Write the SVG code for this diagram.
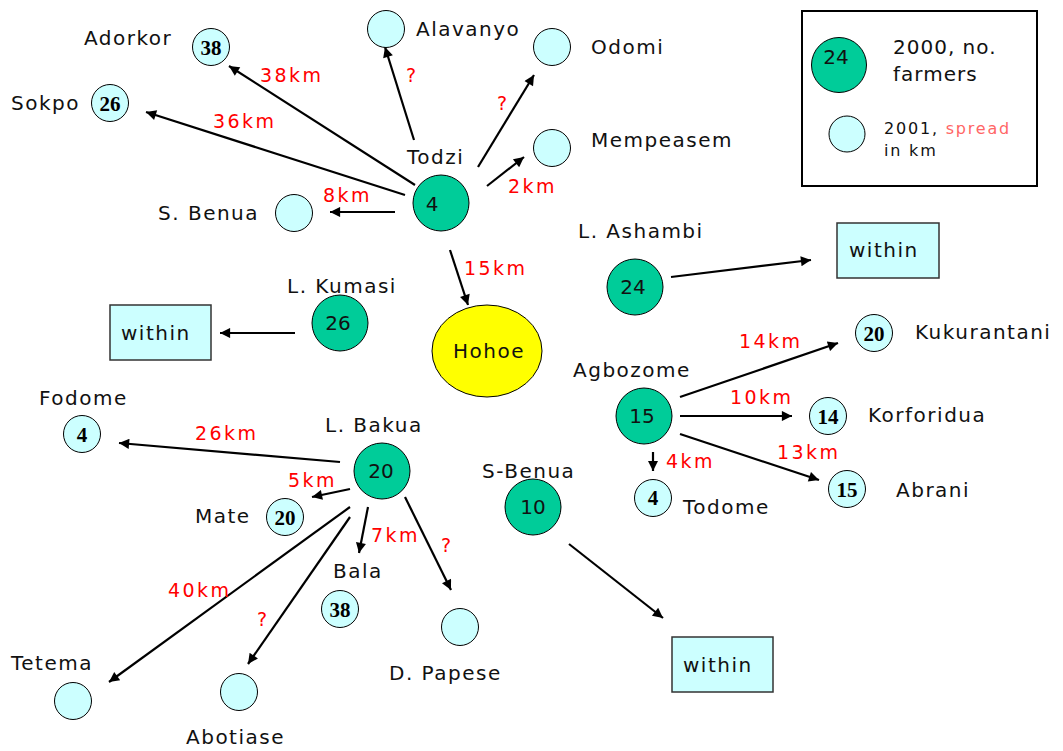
<svg xmlns="http://www.w3.org/2000/svg" width="1063" height="751" viewBox="0 0 1063 751">
<style>
.lbl{font-family:"DejaVu Sans",Verdana,sans-serif;font-size:20px;letter-spacing:1.5px;fill:#111}
.km{font-family:"DejaVu Sans",Verdana,sans-serif;font-size:19px;letter-spacing:2.4px;fill:#ff0000}
.num{font-family:"DejaVu Sans",Verdana,sans-serif;font-size:20px;fill:#111;text-anchor:middle}
.bn{font-family:"Liberation Serif","Times New Roman",serif;font-size:21px;font-weight:bold;fill:#000;text-anchor:middle}
.g{fill:#00cc99;stroke:#000;stroke-width:1}
.c{fill:#ccffff;stroke:#000;stroke-width:1}
.bx{fill:#ccffff;stroke:#333;stroke-width:1.5}
.ar{stroke:#000;stroke-width:2.2;fill:none;marker-end:url(#ah)}
.leg{font-family:"DejaVu Sans",Verdana,sans-serif;fill:#111}
</style>
<defs>
<marker id="ah" viewBox="0 0 10 10" refX="10" refY="5" markerWidth="6" markerHeight="4.6" orient="auto">
<path d="M0,0 L10,5 L0,10 z" fill="#000"/>
</marker>
</defs>
<rect width="1063" height="751" fill="#fff"/>

<g id="connectors">
<line class="ar" x1="414" y1="140" x2="385" y2="47"/>
<line class="ar" x1="478" y1="167" x2="534" y2="75"/>
<line class="ar" x1="487" y1="186" x2="524" y2="157"/>
<line class="ar" x1="415" y1="185" x2="229" y2="66"/>
<line class="ar" x1="405" y1="195" x2="146" y2="112"/>
<line class="ar" x1="395" y1="212" x2="330" y2="212"/>
<line class="ar" x1="450" y1="250" x2="468" y2="305"/>
<line class="ar" x1="295" y1="333" x2="220" y2="333"/>
<line class="ar" x1="671" y1="277" x2="811" y2="260"/>
<line class="ar" x1="680" y1="397" x2="838" y2="343"/>
<line class="ar" x1="680" y1="416" x2="792" y2="416"/>
<line class="ar" x1="680" y1="434" x2="819" y2="480"/>
<line class="ar" x1="653" y1="452" x2="653" y2="471"/>
<line class="ar" x1="340" y1="462" x2="119" y2="443"/>
<line class="ar" x1="350" y1="489" x2="312" y2="497"/>
<line class="ar" x1="368" y1="507" x2="359" y2="553"/>
<line class="ar" x1="405" y1="497" x2="451" y2="590"/>
<line class="ar" x1="350" y1="507" x2="109" y2="682"/>
<line class="ar" x1="350" y1="517" x2="248" y2="664"/>
<line class="ar" x1="569" y1="544" x2="663" y2="618"/>
<text class="km" x="260" y="82">38km</text>
<text class="km" x="213" y="128">36km</text>
<text class="km" x="323" y="202">8km</text>
<text class="km" x="406" y="82">?</text>
<text class="km" x="497" y="110">?</text>
<text class="km" x="508" y="193">2km</text>
<text class="km" x="464" y="275">15km</text>
<text class="km" x="195" y="440">26km</text>
<text class="km" x="288" y="487">5km</text>
<text class="km" x="371" y="542">7km</text>
<text class="km" x="441" y="552">?</text>
<text class="km" x="168" y="597">40km</text>
<text class="km" x="257" y="626">?</text>
<text class="km" x="739" y="348">14km</text>
<text class="km" x="730" y="404">10km</text>
<text class="km" x="777" y="459">13km</text>
<text class="km" x="666" y="468">4km</text>
</g>

<g id="legend">
<rect x="802" y="11" width="235" height="175" fill="#fff" stroke="#000" stroke-width="2"/>
<circle class="g" cx="839" cy="65" r="27.5"/>
<text class="num" x="836" y="64">24</text>
<text class="leg" x="893" y="54" font-size="20" letter-spacing="1">2000, no.</text>
<text class="leg" x="893" y="81" font-size="20" letter-spacing="1">farmers</text>
<circle class="c" cx="847" cy="134" r="18"/>
<text class="leg" x="884" y="134" font-size="16" letter-spacing="1.8">2001, <tspan fill="#ff6666">spread</tspan></text>
<text class="leg" x="884" y="156" font-size="16" letter-spacing="1.8" fill="#ff6666">in km</text>
</g>

<g id="hohoe"><ellipse cx="487" cy="351" rx="55" ry="46" fill="#ffff00" stroke="#000" stroke-width="1"/><text class="lbl" x="453" y="358">Hohoe</text></g>

<g id="todzi"><circle class="g" cx="441" cy="203" r="28"/><text class="num" x="432" y="211">4</text><text class="lbl" x="407" y="164">Todzi</text></g>
<g id="l-kumasi"><circle class="g" cx="340" cy="323" r="28"/><text class="num" x="338" y="330">26</text><text class="lbl" x="287" y="293">L. Kumasi</text></g>
<g id="l-ashambi"><circle class="g" cx="635" cy="287" r="28"/><text class="num" x="633" y="294">24</text><text class="lbl" x="578" y="238">L. Ashambi</text></g>
<g id="agbozome"><circle class="g" cx="644" cy="416" r="28"/><text class="num" x="642" y="423">15</text><text class="lbl" x="573" y="377">Agbozome</text></g>
<g id="l-bakua"><circle class="g" cx="382" cy="471" r="28"/><text class="num" x="381" y="478">20</text><text class="lbl" x="325" y="432">L. Bakua</text></g>
<g id="s-benua-2"><circle class="g" cx="533" cy="507" r="28"/><text class="num" x="533" y="514">10</text><text class="lbl" x="482" y="478">S-Benua</text></g>

<g id="alavanyo"><circle class="c" cx="386" cy="29" r="18.5"/><text class="lbl" x="416" y="36">Alavanyo</text></g>
<g id="odomi"><circle class="c" cx="552" cy="47" r="18.5"/><text class="lbl" x="591" y="54">Odomi</text></g>
<g id="mempeasem"><circle class="c" cx="552" cy="148" r="18.5"/><text class="lbl" x="591" y="147">Mempeasem</text></g>
<g id="adorkor"><circle class="c" cx="211" cy="47" r="18.5"/><text class="bn" x="211" y="55">38</text><text class="lbl" x="84" y="45">Adorkor</text></g>
<g id="sokpo"><circle class="c" cx="110" cy="103" r="18.5"/><text class="bn" x="110" y="111">26</text><text class="lbl" x="11" y="110">Sokpo</text></g>
<g id="s-benua"><circle class="c" cx="294" cy="213" r="18.5"/><text class="lbl" x="158" y="220">S. Benua</text></g>
<g id="fodome"><circle class="c" cx="82" cy="434" r="18.5"/><text class="bn" x="82" y="442">4</text><text class="lbl" x="39" y="405">Fodome</text></g>
<g id="mate"><circle class="c" cx="285" cy="517" r="18.5"/><text class="bn" x="285" y="525">20</text><text class="lbl" x="195" y="523">Mate</text></g>
<g id="bala"><circle class="c" cx="340" cy="609" r="18.5"/><text class="bn" x="340" y="617">38</text><text class="lbl" x="333" y="578">Bala</text></g>
<g id="d-papese"><circle class="c" cx="460" cy="627" r="18.5"/><text class="lbl" x="389" y="680">D. Papese</text></g>
<g id="tetema"><circle class="c" cx="73" cy="701" r="18.5"/><text class="lbl" x="11" y="670">Tetema</text></g>
<g id="abotiase"><circle class="c" cx="239" cy="692" r="18.5"/><text class="lbl" x="186" y="744">Abotiase</text></g>
<g id="kukurantani"><circle class="c" cx="874" cy="333" r="18.5"/><text class="bn" x="874" y="341">20</text><text class="lbl" x="915" y="339">Kukurantani</text></g>
<g id="korforidua"><circle class="c" cx="828" cy="416" r="18.5"/><text class="bn" x="828" y="424">14</text><text class="lbl" x="868" y="422">Korforidua</text></g>
<g id="abrani"><circle class="c" cx="847" cy="489" r="18.5"/><text class="bn" x="847" y="497">15</text><text class="lbl" x="896" y="497">Abrani</text></g>
<g id="todome"><circle class="c" cx="653" cy="498" r="18.5"/><text class="bn" x="653" y="505">4</text><text class="lbl" x="683" y="514">Todome</text></g>

<g id="within-kumasi"><rect class="bx" x="110" y="305" width="101" height="55"/><text class="lbl" x="121" y="340">within</text></g>
<g id="within-ashambi"><rect class="bx" x="837" y="223" width="102" height="55"/><text class="lbl" x="849" y="257">within</text></g>
<g id="within-sbenua"><rect class="bx" x="672" y="637" width="101" height="55"/><text class="lbl" x="683" y="672">within</text></g>
</svg>
